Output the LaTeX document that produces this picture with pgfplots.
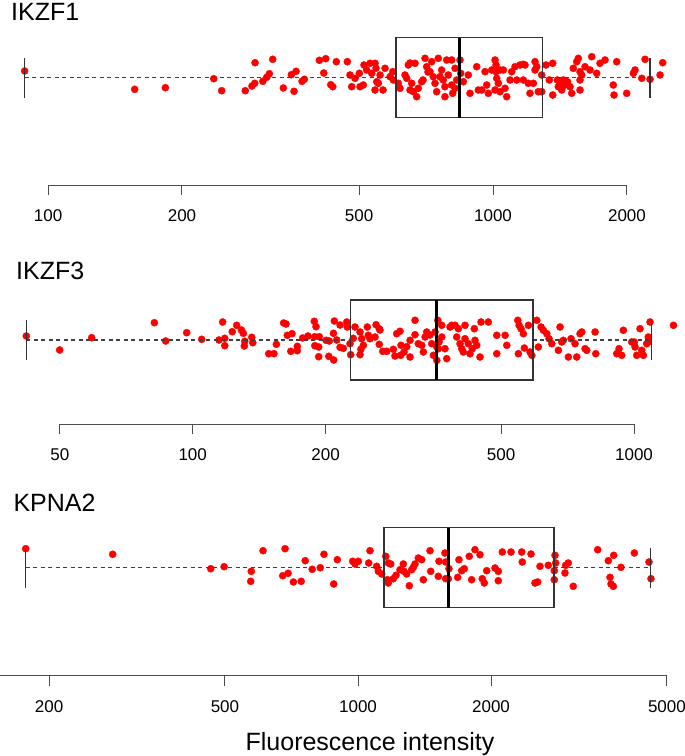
\documentclass[border=0pt]{standalone}
\usepackage{fontspec}
\setmainfont{Liberation Sans}
\usepackage{pgfplots}
\usepackage{pgfplotstable}
\pgfplotsset{compat=1.18}

% intensity, vertical jitter (pt above the centre line)
\pgfplotstableread{
x y
88.6 6.7
156.6 -11.6
183.5 -10
235.7 -1
245.6 -13
277.5 -13
287.3 -8.3
291.4 -5.6
291.9 15
303.8 -3.6
310.1 0.4
314.3 4
319.8 18.4
337.9 -10.3
352.2 3
360.9 6.4
357.1 -13.6
372.2 -3.6
376.7 -1.6
407.2 17.4
420.7 19
416.5 4.7
431.8 -7
436.3 -9
444.5 16
470.5 16
477.1 2.7
481.3 -9
489.6 -0.6
500.6 4.4
502.4 -9
511.0 -7.3
512.9 12.7
520.1 7.7
529.1 14.4
533.8 4.4
543.0 14.4
545.8 9.4
547.9 -4
552.4 -5.6
543.0 -12.3
557.4 2.7
565.9 -12.3
571.9 9.4
586.9 1
595.2 6
597.0 -2.3
612.6 -5.6
618.0 -10.6
634.2 2.7
639.8 -0.6
645.1 12.7
650.8 -12.3
650.8 14.7
656.5 -5.6
667.8 14.4
662.0 -14
673.6 -19
679.2 -10.6
691.4 -4
696.1 -2.3
703.3 19.4
709.5 11
714.3 5.7
721.7 6
728.0 16
734.1 1
740.6 -5.6
747.1 -14
753.3 19.4
760.0 1
766.6 7.7
773.0 -2.3
779.8 -9
779.8 -19
786.8 17.7
793.3 2.7
807.3 17.7
807.3 -7.3
811.5 -15.6
821.5 9.4
821.5 -10.6
828.5 -2.3
842.8 17.7
845.9 4.4
857.4 -4
879.8 2.7
887.6 -15.6
919.0 11
926.6 -12.3
943.2 -12.3
959.4 6
967.8 -7.3
975.9 -15.6
993.3 7.7
1010.4 17.7
1010.4 -12.3
1015.6 12.7
1015.6 6
1019.3 -0.6
1027.8 -5.6
1036.7 -14
1036.7 7.7
1054.6 7.7
1064.1 -10.6
1073.4 -19
1092.0 -2.3
1101.6 6
1120.5 11
1130.5 -2.3
1149.9 12.7
1169.6 -2.3
1169.6 13.4
1179.9 12.7
1200.2 -5.6
1210.7 -15.6
1231.8 -5.6
1242.6 16
1242.6 7.7
1253.6 11
1264.0 -14
1286.3 2.7
1286.3 -14
1315.3 12.7
1338.0 -2.3
1361.9 14.4
1361.9 -17.3
1394.6 -2.3
1401.7 -9
1414.3 -5.6
1426.7 -12.3
1438.6 -2.3
1451.2 -7.3
1470.0 -4
1489.2 -9
1502.6 -15.6
1514.8 9.4
1541.9 16
1554.7 19.4
1568.4 6
1568.4 -2.3
1568.4 -12.3
1582.2 2.7
1609.4 11
1651.8 7.7
1666.3 21
1709.9 4.4
1739.3 14.4
1785.1 17.7
1863.3 -7.3
1870.2 -17.3
1896.7 16
1997.0 -15.6
2066.7 4.4
2084.9 7.7
2158.6 -0.6
2195.7 18.4
2253.1 -1.6
2372.9 2.7
2406.0 15
2618 1
2618 -17.3
}\ikzfone

\pgfplotstableread{
x y
41.96 4
49.95 -10
59.03 2.3
81.85 17.3
86.86 -1
96.9 7.3
104.8 0.7
114.7 0
116.9 18
118.2 1.7
118.2 -5.7
122.9 8.3
125.8 14.7
128.9 10
130.2 6.7
131.2 -1.3
130.9 -6
136.1 2.7
136.8 -2.7
148.7 -13.7
152.8 -13.7
154.7 -4.3
160.7 17
162.7 16
163.8 4.7
167.9 6.3
166.8 -11.3
172.6 -6.3
172.6 -10.7
177.5 2
182.5 4
188.6 18.7
190.3 13.3
189.0 3.3
189.1 -5.7
193.0 -7
193.6 3.3
193.0 -16.7
200.5 -0.3
203.9 -1
203.4 -16.3
208.7 -20
209.4 19
208.4 6.7
212.0 0
215.7 15
215.7 -7.3
219.4 -8.3
223.4 18
224.0 13
227.2 -3.7
228.0 -14.7
231.1 1.7
233.2 13
239.4 8
241.5 1.3
240.4 -9.3
239.4 -14.7
243.6 -5.3
248.7 13
250.0 4.7
252.2 1.3
260.3 15.3
258.9 3
264.7 11.3
264.7 -4.3
265.7 10
269.5 -11.3
275.2 -11.3
284.9 -9.3
287.3 -16
289.9 6.3
294.9 8.7
296.0 -15.3
301.2 -12
296.5 -5.3
305.5 -6.7
310.8 -0.3
310.8 -17
319.0 19.7
319.0 5.3
324.5 -3.7
330.4 -5.3
333.2 -12
336.2 3
339.1 8
345.0 5
348.0 -3.7
351.0 -15.3
354.1 8
359.2 19.7
357.3 -7
357.3 -20.3
360.2 -8.7
361.5 -2
366.7 14.7
366.7 3
373.0 -8.7
376.4 -18.7
382.9 13
386.3 14.7
393.0 14.7
396.5 3
399.9 11.3
403.4 -3.7
407.0 -8.7
410.4 -12
414.0 14.7
414.0 1.3
421.2 -3.7
425.0 -13.7
430.1 -8.7
434.6 11.3
436.2 -0.3
440.1 -5.3
447.7 -17
450.1 18
467.6 18
488.6 4.7
488.6 -13.7
510.3 4.7
514.8 -5.3
545.3 19.7
549.0 14.7
554.7 11.3
561.4 6.3
546.9 -13.7
564.4 -8
576.3 14.7
581.4 -12
586.6 -15.3
602.1 19.7
607.1 -7
615.8 13
623.2 9.7
634.4 6.3
642.0 1.3
651.1 -3.7
673.9 -10.3
679.8 13
685.9 -2
691.6 -0.3
709.9 -17
720.0 1.3
735.2 -3.7
741.8 -17
754.6 6.3
761.4 8
774.6 -8.7
781.5 -10.3
816.1 8
819.1 -13.7
913.7 -13.7
924.7 -8.7
937.8 -15.3
945.8 9.7
988.1 -2
1001.6 -2
1005.3 -7
1014.2 -15.3
1031.8 11.3
1041.1 -10.3
1049.8 -15.3
1068.6 -3.7
1077.5 3
1087.2 18
1077.5 -2
1228.4 14.7
}\ikzfthree

\pgfplotstableread{
x y
177.1 19
278.6 13.4
464.3 -1
497.8 1
573.6 -3.6
571.8 -13.6
609.8 17
683.9 19
675.7 -8
694.7 -5.6
714.2 -14.3
743.9 -13.6
759.7 7
787.9 -1.6
821.5 0
837.5 13.4
881.2 -16.3
897.9 8
972.7 6.4
984.5 3.7
1001.6 6.4
1057.3 4.7
1064.4 17
1102.4 1.4
1111.7 -3.6
1131.5 -6.3
1155.5 11.4
1171.3 4.7
1185.9 3.7
1165.1 -12
1171.3 -15.3
1201.9 -11
1219.0 -7.6
1244.5 -2
1266.2 3.7
1270.8 -3.6
1288.7 -6.3
1306.3 -18
1322.7 -2
1333.8 0.4
1345.8 3.7
1369.0 9.7
1393.5 8
1405.1 -12
1455.2 17
1460.5 -3.6
1524.9 6.4
1519.3 -8.6
1573.1 14.7
1578.9 5.7
1606.4 -1
1578.9 -11
1600.5 -11
1680.9 -9.6
1692.2 8
1716.2 -3
1739.6 -1
1785.5 11.4
1807.8 -12
1839.3 18
1888.0 13
1910.7 -11
1930.6 -15.3
1955.2 -3
2041.7 -0.3
2076.8 -3.6
2076.8 -13
2120.8 15.7
2219.2 15.7
2346.3 15.7
2353.3 5.7
2462.4 13.7
2514.5 -15.3
2550.1 -14.3
2580.8 1.4
2694.5 2.4
2790.4 12.4
2800.7 4.7
2780.1 -3
2780.1 -12
2939.2 -5.3
2950.1 2.4
2990.4 4.7
3069.2 -18.6
3485.3 18
3684.7 7
3789.7 12.4
3935.5 0.4
3717.1 -9.6
3736.7 -16.3
3781.9 -18.6
4218.9 14.7
4553.6 5.7
4601.0 -11
5324 -8.6
}\kpnatwo

\pgfplotsset{
  panel/.style={
    scale only axis, width=678pt, enlargelimits=false,
    axis x line*=bottom, axis y line=none,
    x axis line style={-, draw=black!70, line width=1pt},
    tick style={draw=black!70, line width=1pt},
    tick align=outside, major tick length=10pt, xminorticks=false,
    tick label style={font=\fontsize{17}{17}\selectfont, text=black},
    xticklabel style={yshift=-11pt},
    /pgf/number format/assume math mode=true,
    clip marker paths=true,
  },
  dots/.style={color=red, only marks, mark=*, mark size=3.6pt,
    mark options={draw=red, fill=red, line width=0.3pt}},
  boxln/.style={draw=black!80, line width=1.2pt, mark=none, line join=miter},
  medln/.style={draw=black, line width=3pt, mark=none},
  whisk/.style={draw=black!75, line width=1.1pt, mark=none, dash pattern=on 4pt off 3.5pt},
}

\begin{document}
\begin{tikzpicture}
\useasboundingbox (0pt,0pt) rectangle (685pt,-756pt);

% IKZF1
\begin{axis}[xmode=log, panel, at={(0pt,-185pt)}, anchor=south west, height=185pt,
  xmin=78.0, xmax=2604, ymin=-107.3, ymax=77.7,
  xtick={100,200,500,1000,2000}, xticklabels={100,200,500,1000,2000},
  x axis line style={shorten <=48pt, shorten >=51pt}]
\addplot[dots] table {\ikzfone};
\addplot[whisk] coordinates {(88.6,0) (605,0)};
\addplot[whisk] coordinates {(1291,0) (2253,0)};
\addplot[boxln] coordinates {(88.6,-20) (88.6,20)};
\addplot[boxln] coordinates {(2253,-20) (2253,20)};
\addplot[boxln] coordinates {(605,-40) (1291,-40) (1291,40) (605,40) (605,-40)};
\addplot[medln] coordinates {(840,-40) (840,40)};
\end{axis}

% IKZF3
\begin{axis}[xmode=log, panel, at={(0pt,-424pt)}, anchor=south west, height=174pt,
  xmin=36.59, xmax=1258, ymin=-84, ymax=90,
  xtick={50,100,200,500,1000}, xticklabels={50,100,200,500,1000},
  x axis line style={shorten <=60pt, shorten >=44pt}]
\addplot[dots] table {\ikzfthree};
\addplot[whisk] coordinates {(42.0,0) (227.6,0)};
\addplot[whisk] coordinates {(590.3,0) (1094,0)};
\addplot[boxln] coordinates {(42.0,-20) (42.0,20)};
\addplot[boxln] coordinates {(1094,-20) (1094,20)};
\addplot[boxln] coordinates {(227.6,-40) (590.3,-40) (590.3,40) (227.6,40) (227.6,-40)};
\addplot[medln] coordinates {(357.3,-40) (357.3,40)};
\end{axis}

% KPNA2
\begin{axis}[xmode=log, panel, at={(0pt,-675.7pt)}, anchor=south west, height=195.7pt,
  xmin=154.9, xmax=5297, ymin=-108, ymax=87.7,
  xtick={200,500,1000,2000,5000}, xticklabels={200,500,1000,2000,5000},
  x axis line style={shorten >=11pt}]
\addplot[dots] table {\kpnatwo};
\addplot[whisk] coordinates {(177,0) (1145,0)};
\addplot[whisk] coordinates {(2776,0) (4594,0)};
\addplot[boxln] coordinates {(177,-20) (177,20)};
\addplot[boxln] coordinates {(4594,-20) (4594,20)};
\addplot[boxln] coordinates {(1145,-40) (2776,-40) (2776,40) (1145,40) (1145,-40)};
\addplot[medln] coordinates {(1604,-40) (1604,40)};
\end{axis}

\node[anchor=base west, font=\fontsize{25}{25}\selectfont] at (7.7pt,-20pt) {IKZF1};
\node[anchor=base west, font=\fontsize{25}{25}\selectfont] at (12.7pt,-279pt) {IKZF3};
\node[anchor=base west, font=\fontsize{25}{25}\selectfont] at (10pt,-511pt) {KPNA2};
\node[anchor=base, font=\fontsize{25}{25}\selectfont] at (370pt,-750pt) {Fluorescence intensity};
\end{tikzpicture}
\end{document}
